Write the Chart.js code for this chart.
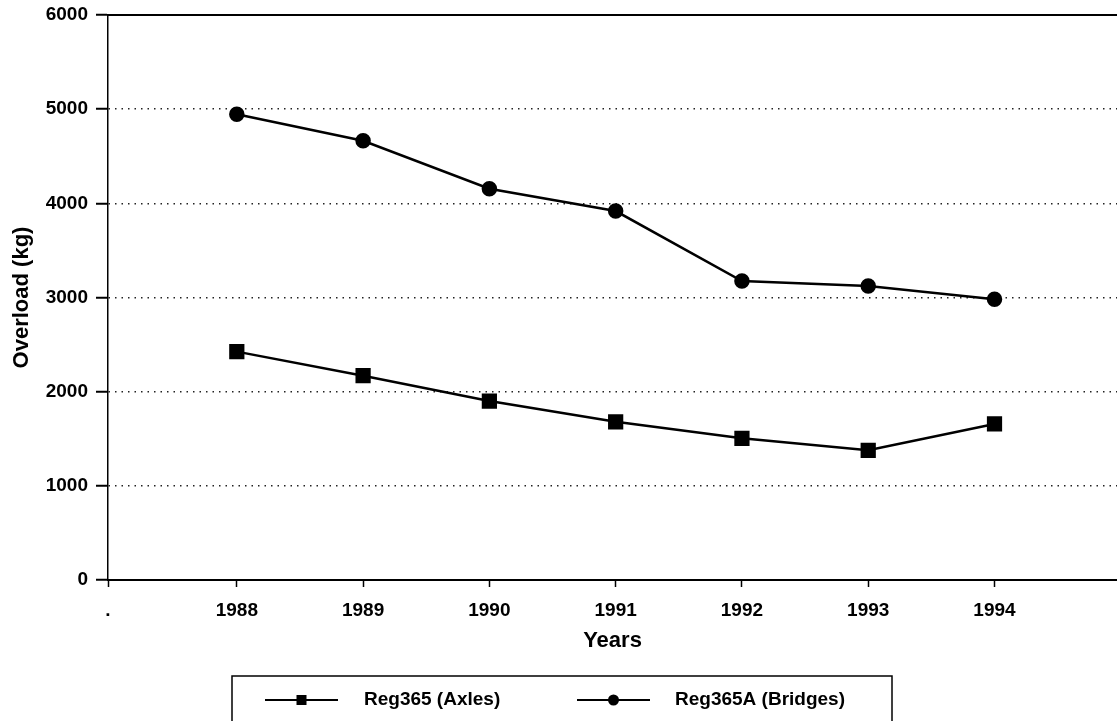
<!DOCTYPE html>
<html>
<head>
<meta charset="utf-8">
<script src="https://cdn.jsdelivr.net/npm/chart.js@4"></script>
<style>
  body { margin: 0; background: #fff; }
  canvas { display: block; }
</style>
</head>
<body>
<canvas id="overloadChart" width="1117" height="721"></canvas>
<script>
const years = [1988, 1989, 1990, 1991, 1992, 1993, 1994];
const axles = [2425, 2170, 1900, 1680, 1505, 1377, 1657];
const bridges = [4945, 4665, 4155, 3918, 3175, 3122, 2981];
const yTicks = [0, 1000, 2000, 3000, 4000, 5000, 6000];
const xMin = 1986.98;
const xMax = 1994.97;

const font = 'Liberation Sans, Arial, sans-serif';

// top border + boxed legend drawn by hand
const framePlugin = {
    id: 'frame',
    beforeDraw(chart) {
        const ctx = chart.ctx;
        ctx.save();
        ctx.fillStyle = '#fff';
        ctx.fillRect(0, 0, chart.width, chart.height);
        ctx.restore();
    },
    afterDraw(chart) {
        const ctx = chart.ctx;
        const area = chart.chartArea;
        const yTop = chart.scales.y.getPixelForValue(yTicks[yTicks.length - 1]);
        ctx.save();
        ctx.strokeStyle = '#000';
        ctx.lineWidth = 2;
        ctx.beginPath();
        ctx.moveTo(area.left, yTop);
        ctx.lineTo(area.right, yTop);
        ctx.stroke();

        // legend box
        ctx.lineWidth = 1.5;
        ctx.strokeRect(232, 676, 660, 60);

        const items = [
            { x0: 265, x1: 338, label: chart.data.datasets[0].label, style: 'rect', tx: 364 },
            { x0: 577, x1: 650, label: chart.data.datasets[1].label, style: 'circle', tx: 675 }
        ];
        const ly = 700;
        ctx.fillStyle = '#000';
        ctx.font = 'bold 19px ' + font;
        ctx.textBaseline = 'middle';
        items.forEach(it => {
            ctx.lineWidth = 2;
            ctx.beginPath();
            ctx.moveTo(it.x0, ly);
            ctx.lineTo(it.x1, ly);
            ctx.stroke();
            const cx = (it.x0 + it.x1) / 2;
            if (it.style === 'rect') {
                ctx.fillRect(cx - 5, ly - 5, 10, 10);
            } else {
                ctx.beginPath();
                ctx.arc(cx, ly, 5.5, 0, Math.PI * 2);
                ctx.fill();
            }
            ctx.fillText(it.label, it.tx, ly);
        });
        ctx.restore();
    }
};

const ctx = document.getElementById('overloadChart').getContext('2d');
new Chart(ctx, {
    type: 'line',
    data: {
        datasets: [{
            label: 'Reg365 (Axles)',
            data: years.map((y, i) => ({ x: y, y: axles[i] })),
            borderColor: '#000',
            backgroundColor: '#000',
            borderWidth: 2.5,
            pointStyle: 'rect',
            pointRadius: 9,
            tension: 0
        }, {
            label: 'Reg365A (Bridges)',
            data: years.map((y, i) => ({ x: y, y: bridges[i] })),
            borderColor: '#000',
            backgroundColor: '#000',
            borderWidth: 2.5,
            pointStyle: 'circle',
            pointRadius: 6.5,
            tension: 0
        }]
    },
    options: {
        responsive: false,
        animation: false,
        devicePixelRatio: 1,
        layout: { autoPadding: false, padding: { top: 15, right: 0, bottom: 66, left: 0 } },
        plugins: {
            legend: { display: false },
            tooltip: { enabled: false }
        },
        scales: {
            x: {
                type: 'linear',
                min: xMin,
                max: xMax,
                afterBuildTicks(scale) {
                    scale.ticks = [xMin].concat(years).map(v => ({ value: v }));
                },
                afterFit(scale) {
                    scale.height = 75;
                    scale.paddingLeft = 0;
                    scale.paddingRight = 0;
                },
                ticks: {
                    color: '#000',
                    padding: 12,
                    font: { family: font, size: 19, weight: 'bold' },
                    callback: v => v === xMin ? '.' : String(v)
                },
                grid: {
                    drawOnChartArea: false,
                    tickLength: 7,
                    tickColor: '#000',
                    tickWidth: 1.5
                },
                border: { display: true, color: '#000', width: 2 },
                title: {
                    display: true,
                    text: 'Years',
                    color: '#000',
                    padding: { top: 0, bottom: 1 },
                    font: { family: font, size: 22, weight: 'bold' }
                }
            },
            y: {
                min: 0,
                max: 6000,
                afterFit(scale) {
                    scale.width = 108;
                    scale.paddingTop = 0;
                    scale.paddingBottom = 0;
                },
                afterBuildTicks(scale) { scale.ticks = yTicks.map(v => ({ value: v })); },
                ticks: {
                    color: '#000',
                    padding: 8,
                    font: { family: font, size: 19, weight: 'bold' },
                    callback: v => String(v)
                },
                grid: {
                    color: c => (c.tick && (c.tick.value === 0 || c.tick.value === 6000)) ? 'rgba(0,0,0,0)' : '#222',
                    lineWidth: 1.5,
                    tickLength: 12,
                    tickColor: '#000',
                    tickWidth: 2
                },
                border: { display: true, color: '#000', width: 1.5, dash: [1.5, 5] },
                title: {
                    display: true,
                    text: 'Overload (kg)',
                    color: '#000',
                    padding: { top: 9, bottom: 0 },
                    font: { family: font, size: 22, weight: 'bold' }
                }
            }
        }
    },
    plugins: [framePlugin]
});
</script>
</body>
</html>
